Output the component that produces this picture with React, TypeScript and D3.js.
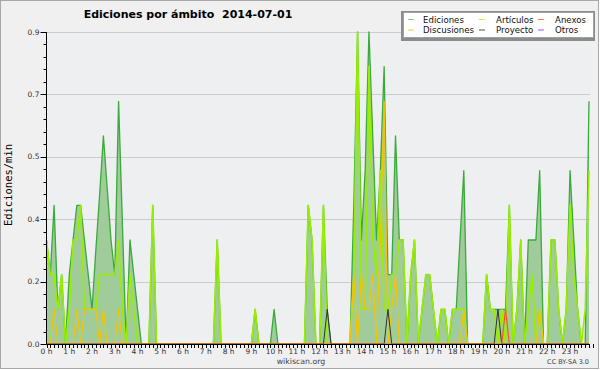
import React from 'react';
import * as d3 from 'd3';

// one value every 10 minutes, 6 per hour (rows = hours 0..23)
const ediciones = [
  0.3, 0.2, 0.4, 0.1, 0.2, 0,
  0.2, 0.3, 0.4, 0.4, 0.3, 0.2,
  0.1, 0.27, 0.43, 0.6, 0.45, 0.3,
  0.2, 0.7, 0.35, 0, 0.3, 0.2,
  0.1, 0, 0, 0, 0.4, 0,
  0, 0, 0, 0, 0, 0,
  0, 0, 0, 0, 0, 0,
  0, 0, 0, 0.3, 0, 0,
  0, 0, 0, 0, 0, 0,
  0, 0.1, 0, 0, 0, 0,
  0.1, 0, 0, 0, 0, 0,
  0, 0, 0, 0.4, 0.3, 0,
  0, 0.4, 0.1, 0, 0, 0,
  0, 0, 0, 0.4, 0.9, 0.3,
  0.5, 0.9, 0.6, 0.3, 0.5, 0.8,
  0.2, 0.2, 0.6, 0.3, 0.3, 0,
  0.2, 0.3, 0, 0.1, 0.2, 0.2,
  0.1, 0, 0.1, 0.1, 0, 0.1,
  0.1, 0.3, 0.5, 0, 0, 0,
  0, 0, 0.2, 0.1, 0.1, 0.1,
  0.1, 0.1, 0.4, 0, 0.1, 0.3,
  0, 0.3, 0.3, 0.3, 0.5, 0,
  0, 0.3, 0.3, 0.1, 0, 0.1,
  0.5, 0.3, 0.1, 0, 0, 0.7,
];

const articulos = [
  0.3, 0.2, 0.2, 0.1, 0.2, 0,
  0.1, 0.3, 0.3, 0.4, 0.1, 0.1,
  0.1, 0.1, 0.2, 0.2, 0.2, 0.2,
  0.2, 0.3, 0.1, 0, 0.2, 0.1,
  0, 0, 0, 0, 0.4, 0,
  0, 0, 0, 0, 0, 0,
  0, 0, 0, 0, 0, 0,
  0, 0, 0, 0.3, 0, 0,
  0, 0, 0, 0, 0, 0,
  0, 0.1, 0, 0, 0, 0,
  0, 0, 0, 0, 0, 0,
  0, 0, 0, 0.4, 0.3, 0,
  0, 0.4, 0, 0, 0, 0,
  0, 0, 0, 0.2, 0.9, 0.1,
  0.1, 0.8, 0.3, 0.2, 0.5, 0.1,
  0.1, 0.2, 0.2, 0.3, 0.3, 0,
  0.2, 0.3, 0, 0.1, 0.2, 0.2,
  0.1, 0, 0.1, 0.1, 0, 0.1,
  0.1, 0.1, 0.1, 0, 0, 0,
  0, 0, 0.2, 0.1, 0.1, 0,
  0.1, 0, 0.4, 0, 0.1, 0.3,
  0, 0.1, 0.2, 0, 0.1, 0,
  0, 0.3, 0.3, 0.1, 0, 0.1,
  0.4, 0.2, 0.1, 0, 0.1, 0.5,
];

const discusiones = [
  0, 0, 0.1, 0, 0, 0,
  0, 0, 0.1, 0, 0.1, 0.1,
  0.1, 0.1, 0, 0.1, 0, 0,
  0, 0.1, 0, 0, 0, 0,
  0, 0, 0, 0, 0, 0,
  0, 0, 0, 0, 0, 0,
  0, 0, 0, 0, 0, 0,
  0, 0, 0, 0, 0, 0,
  0, 0, 0, 0, 0, 0,
  0, 0, 0, 0, 0, 0,
  0, 0, 0, 0, 0, 0,
  0, 0, 0, 0, 0, 0,
  0, 0, 0, 0, 0, 0,
  0, 0, 0, 0.2, 0, 0.2,
  0.1, 0.1, 0.2, 0, 0.3, 0.7,
  0, 0.1, 0.2, 0, 0, 0,
  0, 0, 0, 0, 0, 0,
  0, 0, 0, 0, 0, 0,
  0, 0, 0.1, 0, 0, 0,
  0, 0, 0, 0, 0, 0,
  0, 0, 0, 0, 0, 0,
  0, 0, 0, 0, 0.1, 0,
  0, 0, 0, 0, 0, 0,
  0, 0, 0, 0, 0, 0,
];

const proyecto = [
  0, 0, 0, 0, 0, 0,
  0, 0, 0, 0, 0, 0,
  0, 0, 0, 0, 0, 0,
  0, 0, 0, 0, 0, 0,
  0, 0, 0, 0, 0, 0,
  0, 0, 0, 0, 0, 0,
  0, 0, 0, 0, 0, 0,
  0, 0, 0, 0, 0, 0,
  0, 0, 0, 0, 0, 0,
  0, 0, 0, 0, 0, 0,
  0, 0, 0, 0, 0, 0,
  0, 0, 0, 0, 0, 0,
  0, 0, 0.1, 0, 0, 0,
  0, 0, 0, 0, 0, 0,
  0, 0, 0, 0, 0, 0,
  0.1, 0, 0, 0, 0, 0,
  0, 0, 0, 0, 0, 0,
  0, 0, 0, 0, 0, 0,
  0, 0, 0, 0, 0, 0,
  0, 0, 0, 0, 0, 0.1,
  0, 0, 0, 0, 0, 0,
  0, 0, 0, 0, 0, 0,
  0, 0, 0, 0, 0, 0,
  0, 0, 0, 0, 0, 0,
];

const anexos = [
  0, 0, 0, 0, 0, 0,
  0, 0, 0, 0, 0, 0,
  0, 0, 0, 0, 0, 0,
  0, 0, 0, 0, 0, 0,
  0, 0, 0, 0, 0, 0,
  0, 0, 0, 0, 0, 0,
  0, 0, 0, 0, 0, 0,
  0, 0, 0, 0, 0, 0,
  0, 0, 0, 0, 0, 0,
  0, 0, 0, 0, 0, 0,
  0, 0, 0, 0, 0, 0,
  0, 0, 0, 0, 0, 0,
  0, 0, 0, 0, 0, 0,
  0, 0, 0, 0, 0, 0,
  0, 0, 0, 0, 0, 0,
  0, 0, 0, 0, 0, 0,
  0, 0, 0, 0, 0, 0,
  0, 0, 0, 0, 0, 0,
  0, 0, 0, 0, 0, 0,
  0, 0, 0, 0, 0, 0,
  0, 0.1, 0, 0, 0, 0,
  0, 0, 0, 0, 0, 0,
  0, 0, 0, 0, 0, 0,
  0, 0, 0, 0, 0, 0,
];

const hourLabels = [
  '0 h', '1 h', '2 h', '3 h', '4 h', '5 h', '6 h', '7 h', '8 h', '9 h', '10 h', '11 h',
  '12 h', '13 h', '14 h', '15 h', '16 h', '17 h', '18 h', '19 h', '20 h', '21 h', '22 h', '23 h',
];
const yTicks = [0, 0.18, 0.36, 0.54, 0.72, 0.9];

const legendNames = ['Ediciones', 'Artículos', 'Anexos', 'Discusiones', 'Proyecto', 'Otros'];
const legendColors = ['#7fcf7f', '#ccee44', '#f08050', '#f5cc40', '#555555', '#9955ee'];

const W = 600;
const H = 370;
const left = 46.5;
const right = 589;
const top = 32;
const bottom = 344;
const font = 'DejaVu Sans';

export default function App() {
  const x = d3.scaleLinear().domain([0, ediciones.length - 1]).range([left, right]);
  const y = d3.scaleLinear().domain([0, 0.9]).range([bottom, top]);

  const line = d3.line<number>().x((d, i) => x(i)).y((d) => y(d));
  const area = d3.area<number>().x((d, i) => x(i)).y0(y(0)).y1((d) => y(d));

  const minorY = d3.range(0, 0.9001, 0.036);
  const minorX = d3.range(0, ediciones.length + 1);

  const series = [
    { data: ediciones, color: '#3aaa3a', w: 1.3 },
    { data: articulos, color: '#99ee00', w: 1.6 },
    { data: discusiones, color: '#f5c400', w: 1.2 },
    { data: proyecto, color: '#333333', w: 1 },
    { data: anexos, color: '#ff5522', w: 1.2 },
  ];

  return (
    <svg width={W} height={H} style={{ position: 'absolute', left: 0, top: 0 }} fontFamily={font}>
      <rect x={0.5} y={0.5} width={W - 2} height={H - 2} fill="#f0f0f0" stroke="#a8a8a8" />
      <rect x={left} y={top} width={590 - left} height={bottom - top} fill="#eeeff1" />

      {/* grid */}
      {yTicks.slice(1).map((t) => (
        <line key={t} x1={left} x2={590} y1={Math.round(y(t)) + 0.5} y2={Math.round(y(t)) + 0.5} stroke="#cccccc" />
      ))}

      <path d={area(ediciones) || ''} fill="#a0cc9c" />
      {series.map((s, k) => (
        <path key={k} d={line(s.data) || ''} fill="none" stroke={s.color} strokeWidth={s.w} strokeLinejoin="round" />
      ))}

      {/* y axis */}
      <line x1={left} x2={left} y1={top} y2={bottom} stroke="#000" />
      {minorY.map((t, i) => (
        <line key={i} x1={left - 3} x2={left} y1={Math.round(y(t)) + 0.5} y2={Math.round(y(t)) + 0.5} stroke="#000" />
      ))}
      {yTicks.map((t) => (
        <g key={t}>
          <line x1={left - 6} x2={left} y1={Math.round(y(t)) + 0.5} y2={Math.round(y(t)) + 0.5} stroke="#000" />
          <text x={left - 7} y={y(t) + 2.5} fontSize={7.5} textAnchor="end" fill="#333">
            {d3.format('.1f')(t)}
          </text>
        </g>
      ))}

      {/* x axis */}
      <line x1={left} x2={590} y1={bottom + 0.5} y2={bottom + 0.5} stroke="#000" />
      {minorX.map((i) => (
        <line key={i} x1={Math.round(x(i)) + 0.5} x2={Math.round(x(i)) + 0.5} y1={bottom} y2={bottom + 4} stroke="#000" />
      ))}
      {hourLabels.map((h, k) => (
        <text key={h} x={x(k * 6)} y={bottom + 10} fontSize={7.5} textAnchor="middle" fill="#333">
          {h}
        </text>
      ))}

      <text x={188} y={18} fontSize={11} fontWeight="bold" textAnchor="middle" fill="#000" style={{ whiteSpace: 'pre' }}>
        {'Ediciones por ámbito  2014-07-01'}
      </text>
      <text
        transform="translate(12,185) rotate(-90)"
        fontFamily="DejaVu Sans Mono"
        fontSize={10.5}
        textAnchor="middle"
        fill="#000"
      >
        Ediciones/min
      </text>
      <text x={301} y={364} fontSize={7.8} textAnchor="middle" fill="#444">
        wikiscan.org
      </text>
      <text x={589} y={364} fontSize={6.5} textAnchor="end" fill="#444">
        CC BY-SA 3.0
      </text>

      {/* legend */}
      <rect x={401} y={11} width={194} height={30} fill="#8c8c8c" />
      <rect x={403.5} y={12.5} width={190} height={25} fill="#ffffff" stroke="#a0a0a0" />
      {legendNames.map((n, k) => {
        const col = k % 3;
        const row = Math.floor(k / 3);
        const lx = [408, 479, 538][col];
        const tx = [423, 496, 555][col];
        const ly = 19.5 + row * 10.5;
        return (
          <g key={n}>
            <line x1={lx} x2={lx + 6} y1={ly} y2={ly} stroke={legendColors[k]} strokeWidth={1} />
            <text x={tx} y={ly + 3.2} fontSize={8.6} fill="#111">
              {n}
            </text>
          </g>
        );
      })}
    </svg>
  );
}
